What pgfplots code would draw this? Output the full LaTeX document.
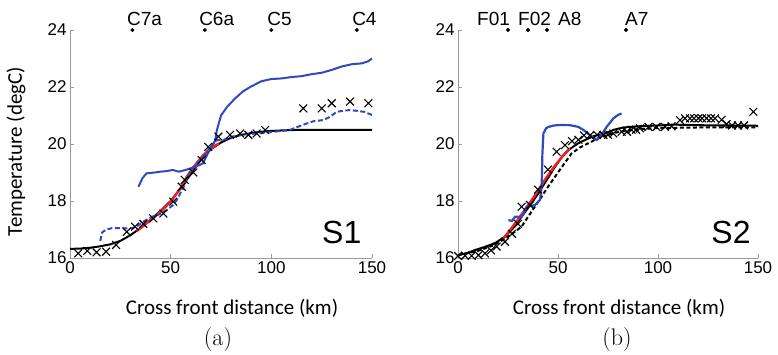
\documentclass[border=0pt]{standalone}
\usepackage{fontspec}
\setsansfont{Liberation Sans}
\newfontfamily\carlito{Carlito}
\usepackage{pgfplots}
\pgfplotsset{compat=1.18}
\definecolor{myblue}{RGB}{50,72,190}
\definecolor{myred}{RGB}{238,32,32}
\tikzset{stlabel/.style={anchor=base west, yshift=5pt, inner sep=0pt, font=\sffamily\fontsize{19}{22}\selectfont}}
\pgfplotsset{
  common/.style={
    scale only axis, width=302pt, height=228pt,
    xmin=0, xmax=150, ymin=16, ymax=24,
    enlargelimits=false, clip=false,
    axis lines*=left,
    axis line style={-, draw=gray!80, line width=0.8pt},
    tick style={draw=gray!80, line width=0.8pt},
    major tick length=4pt, tick align=inside,
    xtick={0,50,100,150}, ytick={16,18,20,22,24},
    /pgf/number format/assume math mode=true,
    ticklabel style={font=\sffamily\fontsize{17}{20}\selectfont},
    xlabel={Cross front distance (km)},
    xlabel style={at={(axis description cs:0.5,0)}, anchor=center, yshift=-50pt, xshift=11pt, font=\carlito\fontsize{21}{24}\selectfont},
  },
  stations/.style={only marks, mark=*, mark size=1.8pt, black},
  crosses/.style={only marks, mark=x, mark size=5.5pt, black, mark options={line width=1.1pt}},
}
\begin{document}
\begin{tikzpicture}
\path[use as bounding box] (0pt,0pt) rectangle (778pt,354pt);
\begin{axis}[common, at={(70pt,96pt)}, anchor=south west,
  ylabel={Temperature (degC)},
  ylabel style={at={(axis description cs:-0.179,0.467)}, anchor=center, font=\carlito\fontsize{21}{24}\selectfont}]
% black fit
\addplot[black, line width=2pt] coordinates {(0,16.32)(5,16.33)(10,16.36)(15,16.41)(20,16.48)(25,16.6)(30,16.8)(35,17.05)(40,17.35)(45,17.65)(50,18.0)(55,18.45)(60,18.95)(65,19.45)(70,19.82)(75,20.05)(80,20.22)(85,20.32)(90,20.38)(95,20.43)(100,20.46)(110,20.49)(120,20.5)(150,20.5)};
% red
\addplot[myred, line width=2.4pt] coordinates {(33,16.95)(36,17.1)(40,17.33)(45,17.62)(50,17.98)(55,18.45)(58,18.85)(62,19.25)(66,19.6)(70,19.85)(74,20.02)};
% blue dashed
\addplot[myblue, line width=2pt, dash pattern=on 5pt off 2.5pt] coordinates {(15,16.6)(16,16.9)(18,17.0)(21,17.05)(25,17.05)(28,17.04)(31,17.05)(33,17.1)(37,17.3)(41,17.45)(45,17.55)(48,17.68)(51,17.85)(53,18.03)(55,18.3)(56.5,18.5)(58,18.8)(60,19.1)(63,19.3)(66,19.55)(70,19.9)(73,20.14)(76,20.14)(80,20.25)(84.5,20.32)(92.7,20.37)(100,20.42)(109,20.49)(113,20.6)(117.6,20.72)(121,20.8)(125.8,20.84)(129,20.95)(132.5,21.13)(136,21.17)(139,21.19)(143,21.16)(146,21.13)(150,21.02)};
% blue solid
\addplot[myblue, line width=2pt] coordinates {(34,18.5)(36,18.8)(38,18.97)(42,19.0)(45,19.03)(48,19.05)(51,19.09)(54,19.03)(57,19.08)(60,19.15)(64,19.25)(66,19.32)(68,19.6)(70,19.9)(72,20.1)(73,20.5)(75,21.0)(78,21.3)(82,21.6)(86,21.85)(90,22.02)(95,22.2)(100,22.28)(105,22.3)(110,22.35)(115,22.38)(120,22.45)(125,22.5)(130,22.6)(135,22.72)(140,22.8)(145,22.83)(148,22.9)(150,23.0)};
% crosses
\addplot[crosses] coordinates {(4.1,16.16)(8.6,16.25)(13.2,16.2)(17.9,16.22)(22.9,16.46)(28.2,16.92)(32.3,17.1)(36.4,17.2)(41.4,17.39)(46.4,17.56)(51.3,17.98)(55.5,18.5)(57,18.74)(61.3,19.0)(65.4,19.44)(68.7,19.9)(73.7,20.26)(79.5,20.32)(84.5,20.37)(88.6,20.32)(92.7,20.37)(96.9,20.49)(115.9,21.25)(125,21.25)(130,21.43)(139.1,21.49)(148.2,21.43)};
% stations
\addplot[stations] coordinates {(31,24)(67,24)(100,24)(142.5,24)};
\node[stlabel] at (axis cs:28.3,24) {C7a};
\node[stlabel] at (axis cs:64.1,24) {C6a};
\node[stlabel] at (axis cs:97.9,24) {C5};
\node[stlabel] at (axis cs:140.1,24) {C4};
\node[font=\sffamily\fontsize{32}{36}\selectfont, inner sep=0pt, anchor=center] at (axis cs:135,16.91) {S1};
\node[font=\fontsize{24}{28}\selectfont, anchor=center] at (axis description cs:0.5,0) [yshift=-82pt, xshift=-3pt] {(a)};
\end{axis}
\begin{axis}[common, at={(458pt,96pt)}, anchor=south west, width=300pt]
% black dashed
\addplot[black, line width=2pt, dash pattern=on 4pt off 2.5pt] coordinates {(0,16.1)(10,16.25)(18,16.45)(24,16.7)(28,16.9)(31.8,17.1)(36,17.55)(41.8,18.15)(45,18.5)(48.5,18.85)(52,19.2)(56.8,19.67)(61,19.88)(65,20.02)(70,20.2)(75,20.32)(80,20.42)(90,20.52)(100,20.56)(120,20.58)(150,20.58)};
% black solid
\addplot[black, line width=2pt] coordinates {(0,16.1)(5,16.18)(8.5,16.28)(13,16.38)(18.5,16.52)(23.5,16.75)(27,17.0)(31.8,17.45)(36,17.85)(40.2,18.27)(44,18.7)(48.5,19.2)(52,19.55)(55.2,19.79)(60,20.02)(63.5,20.14)(68,20.28)(73.5,20.37)(78,20.5)(82.7,20.58)(90,20.62)(100,20.65)(107.7,20.68)(120,20.66)(150,20.64)};
% red
\addplot[myred, line width=2.4pt] coordinates {(22.7,16.69)(26,16.98)(30,17.35)(34,17.75)(38,18.15)(40.2,18.39)(44,18.8)(48,19.2)(52,19.55)(56,19.85)};
% crosses
\addplot[crosses] coordinates {(0,16.07)(3.5,16.08)(6.8,16.08)(10.2,16.1)(13.5,16.16)(16.5,16.27)(19.3,16.4)(23.5,16.57)(27,16.85)(30,17.2)(31.8,17.8)(36,17.86)(40,18.4)(45,19.1)(49.3,19.73)(53.5,19.96)(57,20.1)(60.2,20.15)(63,20.3)(66,20.3)(69.5,20.32)(72.7,20.32)(75,20.32)(77.7,20.37)(81.8,20.43)(84.5,20.43)(86.8,20.5)(89,20.5)(91,20.55)(95.2,20.6)(99.3,20.6)(103.5,20.6)(106.8,20.62)(111,20.84)(113.5,20.9)(116,20.9)(118,20.9)(120.2,20.9)(122,20.9)(124.3,20.9)(126.5,20.9)(128.5,20.9)(131.8,20.85)(134.3,20.7)(137,20.65)(140,20.65)(143,20.65)(147.7,21.13)};
% blue
\addplot[myblue, line width=2.2pt] coordinates {(25.2,17.33)(27,17.3)(28.5,17.45)(31.8,17.45)(33,17.6)(34.3,17.8)(36,17.82)(38.5,17.86)(41,18.04)(41.8,18.5)(42,19.0)(42.2,19.67)(42.7,20.37)(44,20.55)(45.2,20.6)(48,20.65)(51.8,20.67)(56,20.66)(60.2,20.6)(63,20.48)(65,20.37)(67,20.25)(69.3,20.14)(71.8,20.32)(74.3,20.6)(77.7,20.9)(80,21.02)(81.8,21.07)};
% stations
\addplot[stations] coordinates {(25,24)(35,24)(44.5,24)(84,24)};
\node[stlabel] at (axis cs:9.5,24) {F01};
\node[stlabel] at (axis cs:30,24) {F02};
\node[stlabel] at (axis cs:50,24) {A8};
\node[stlabel] at (axis cs:83.5,24) {A7};
\node[font=\sffamily\fontsize{32}{36}\selectfont, inner sep=0pt, anchor=center] at (axis cs:136.5,16.91) {S2};
\node[font=\fontsize{24}{28}\selectfont, anchor=center] at (axis description cs:0.5,0) [yshift=-82pt, xshift=9pt] {(b)};
\end{axis}
\end{tikzpicture}
\end{document}
